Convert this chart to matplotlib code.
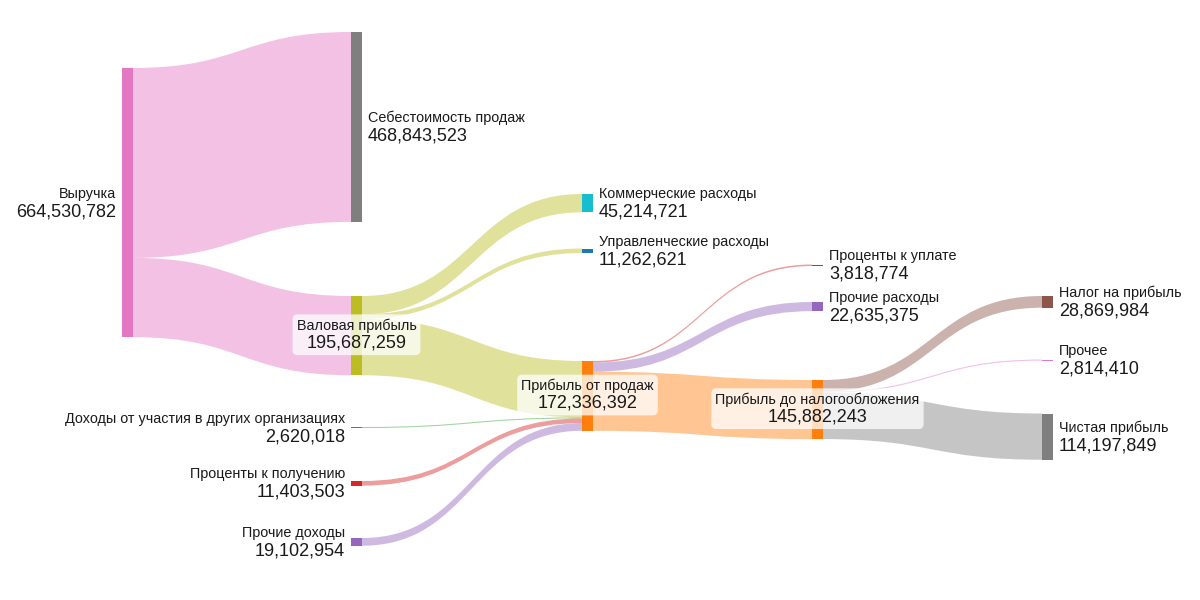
import matplotlib
matplotlib.use('Agg')
import matplotlib.pyplot as plt
from matplotlib.path import Path
from matplotlib.patches import PathPatch, Rectangle, FancyBboxPatch
from matplotlib.transforms import Bbox

plt.rcParams['font.family'] = ['Liberation Sans', 'DejaVu Sans']

# --- data ---
nodes = ['Выручка', 'Себестоимость продаж', 'Валовая прибыль',
         'Коммерческие расходы', 'Управленческие расходы', 'Прибыль от продаж',
         'Доходы от участия в других организациях', 'Проценты к получению',
         'Прочие доходы', 'Проценты к уплате', 'Прочие расходы',
         'Прибыль до налогообложения', 'Налог на прибыль', 'Прочее',
         'Чистая прибыль']
link_src = [0, 0, 2, 2, 2, 6, 7, 8, 5, 5, 5, 11, 11, 11]
link_dst = [1, 2, 3, 4, 5, 5, 5, 5, 9, 10, 11, 12, 13, 14]
link_val = [468843523, 195687259, 45214721, 11262621, 139209917,
            2620018, 11403503, 19102954, 3818774, 22635375, 145882243,
            28869984, 2814410, 114197849]

# --- layout / style ---
node_col = [0, 1, 1, 2, 2, 2, 1, 1, 1, 3, 3, 3, 4, 4, 4]
node_top_px = [68, 32, 296, 194, 248.5, 361, 427, 481, 538,
               264.5, 302, 380, 296, 359.5, 413.5]
col_x = [122, 351, 582, 812, 1042]
NODE_W = 11
PX_PER_RUB = 0.405e-6
node_color = ['#e377c2', '#7f7f7f', '#bcbd22', '#17becf', '#1f77b4',
              '#ff7f0e', '#2ca02c', '#d62728', '#9467bd', '#d62728',
              '#9467bd', '#ff7f0e', '#8c564b', '#e377c2', '#7f7f7f']
link_color = ['#e377c2', '#e377c2', '#bcbd22', '#bcbd22', '#bcbd22',
              '#2ca02c', '#d62728', '#9467bd', '#d62728', '#9467bd',
              '#ff7f0e', '#8c564b', '#e377c2', '#7f7f7f']

W, H = 1200, 600
Y_SPAN = H / PX_PER_RUB

fig = plt.figure(figsize=(12, 6), dpi=100)
ax = fig.add_axes([0, 0, 1, 1])
ax.set_xlim(0, W)
ax.set_ylim(Y_SPAN, 0)
ax.axis('off')

n = len(nodes)
inflow = [0] * n
outflow = [0] * n
for s, t, v in zip(link_src, link_dst, link_val):
    outflow[s] += v
    inflow[t] += v
node_val = [max(a, b) for a, b in zip(inflow, outflow)]
node_top = [p / PX_PER_RUB for p in node_top_px]
node_mid = [node_top[i] + node_val[i] / 2 for i in range(n)]

# stack links on each node, ordered by the other end's position
src_off = {}
dst_off = {}
for i in range(n):
    outs = sorted([k for k in range(len(link_val)) if link_src[k] == i],
                  key=lambda k: node_mid[link_dst[k]])
    y = node_top[i]
    for k in outs:
        src_off[k] = y
        y += link_val[k]
    ins = sorted([k for k in range(len(link_val)) if link_dst[k] == i],
                 key=lambda k: node_mid[link_src[k]])
    y = node_top[i]
    for k in ins:
        dst_off[k] = y
        y += link_val[k]

for k in range(len(link_val)):
    s, t, v = link_src[k], link_dst[k], link_val[k]
    x0 = col_x[node_col[s]] + NODE_W
    x1 = col_x[node_col[t]]
    xm = (x0 + x1) / 2
    y0, y1 = src_off[k], dst_off[k]
    verts = [(x0, y0), (xm, y0), (xm, y1), (x1, y1),
             (x1, y1 + v), (xm, y1 + v), (xm, y0 + v), (x0, y0 + v),
             (x0, y0)]
    codes = [Path.MOVETO, Path.CURVE4, Path.CURVE4, Path.CURVE4,
             Path.LINETO, Path.CURVE4, Path.CURVE4, Path.CURVE4,
             Path.CLOSEPOLY]
    ax.add_patch(PathPatch(Path(verts, codes), facecolor=link_color[k],
                           edgecolor='none', alpha=0.45, zorder=1))

for i in range(n):
    ax.add_patch(Rectangle((col_x[node_col[i]], node_top[i]), NODE_W,
                           node_val[i], facecolor=node_color[i],
                           edgecolor='none', zorder=2))

boxed = []
for i in range(n):
    x = col_x[node_col[i]]
    name = nodes[i]
    num = f'{node_val[i]:,}'
    if inflow[i] == 0:
        xx, ha = x - 6, 'right'
        dn, dv = 9, -9
    elif outflow[i] == 0:
        xx, ha = x + NODE_W + 6, 'left'
        dn, dv = 9, -9
    else:
        xx, ha = x + NODE_W / 2, 'center'
        dn, dv = 10, -7
    t1 = ax.annotate(name, (xx, node_mid[i]), xytext=(0, dn),
                     textcoords='offset pixels', ha=ha, va='center',
                     fontsize=10.35, color='#1a1a1a', zorder=5)
    t2 = ax.annotate(num, (xx, node_mid[i]), xytext=(0, dv),
                     textcoords='offset pixels', ha=ha, va='center',
                     fontsize=13, color='#1a1a1a', zorder=5)
    if ha == 'center':
        boxed.append((t1, t2))

# white rounded boxes behind the labels of the middle nodes
fig.canvas.draw()
r = fig.canvas.get_renderer()
for t1, t2 in boxed:
    bb = Bbox.union([t1.get_window_extent(r), t2.get_window_extent(r)])
    pad = 4
    ax.add_patch(FancyBboxPatch(
        (bb.x0 - pad, bb.y0 - pad), bb.width + 2 * pad, bb.height + 2 * pad,
        boxstyle='round,pad=0,rounding_size=5', transform=None,
        facecolor='white', edgecolor='none', alpha=0.75, zorder=4))

fig.savefig('out.png', dpi=100, facecolor='white')
